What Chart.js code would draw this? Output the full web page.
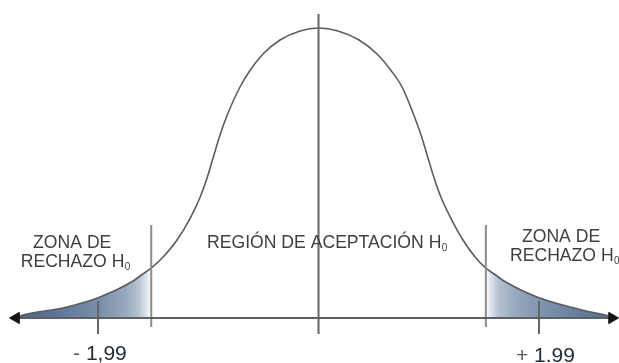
<!DOCTYPE html>
<html>
<head>
<meta charset="utf-8">
<script src="https://cdn.jsdelivr.net/npm/chart.js@4.4.1/dist/chart.umd.min.js"></script>
<style>
  html, body { margin: 0; padding: 0; background: #ffffff; }
  #wrap { width: 619px; height: 363px; }
</style>
</head>
<body>
<div id="wrap"><canvas id="c" width="619" height="363"></canvas></div>
<script>
// Bell curve: standardized abscissa (z) and curve height
const curveZ = [
  -2.712, -2.667, -2.270, -1.972, -1.674, -1.611, -1.503, -1.403, -1.277, -1.160,
  -1.070, -1.006, -0.952, -0.889, -0.817, -0.709, -0.619, -0.501, -0.348, -0.167,
   0.000,  0.176,  0.366,  0.528,  0.654,  0.754,  0.853,  0.925,  0.988,  1.043,
   1.106,  1.196,  1.304,  1.413,  1.503,  1.611,  1.674,  1.972,  2.270,  2.586,
   2.649
];
const curveDensity = [
  0.0021, 0.0041, 0.0152, 0.0290, 0.0510, 0.0579, 0.0697, 0.0841, 0.1076, 0.1372,
  0.1662, 0.1931, 0.2207, 0.2524, 0.2828, 0.3186, 0.3414, 0.3641, 0.3834, 0.3959,
  0.4000, 0.3959, 0.3834, 0.3641, 0.3414, 0.3186, 0.2828, 0.2524, 0.2207, 0.1931,
  0.1662, 0.1372, 0.1076, 0.0841, 0.0697, 0.0579, 0.0510, 0.0290, 0.0152, 0.0041,
  0.0021
];

// Limits of the acceptance region and the labelled critical values
const regionBounds = [-1.51, 1.51];
const criticalValues = [-1.99, 1.99];
const criticalLabels = [['- ', '1,99'], ['+ ', '1.99']];

// Region captions
const leftCaption = ['ZONA DE', 'RECHAZO H'];
const centerCaption = 'REGIÓN DE ACEPTACIÓN H';
const rightCaption = ['ZONA DE', 'RECHAZO H'];
const subscript = '0';

// Drawing geometry (in axis units)
const X_MIN = -2.875, X_MAX = 2.712;
const Y_MIN = -0.0621, Y_MAX = 0.4386;
const AXIS_FROM = -2.748, AXIS_TO = 2.667;
const ARROW_AT = [-2.730, 2.649];
const CENTER_TOP = 0.4193, TICK_BOTTOM = -0.0221, TICK_TOP = 0.0234;
const BOUND_TOP = 0.1283, BOUND_BOTTOM = -0.0124;

const seg = (x, y0, y1) => [{ x: x, y: y0 }, { x: x, y: y1 }];

// Gradient for the two rejection tails; transparent over the acceptance region
function tailFill(context) {
  const chart = context.chart;
  const area = chart.chartArea;
  if (!area) return 'rgba(0,0,0,0)';
  const xs = chart.scales.x;
  const w = area.right - area.left;
  const f = px => Math.min(1, Math.max(0, (px - area.left) / w));
  const L = xs.getPixelForValue(regionBounds[0]);
  const R = xs.getPixelForValue(regionBounds[1]);
  const g = chart.ctx.createLinearGradient(area.left, 0, area.right, 0);
  g.addColorStop(f(12), '#48618a');
  g.addColorStop(f(60), '#5f7899');
  g.addColorStop(f(100), '#7a8faa');
  g.addColorStop(f(L - 26), '#97a9be');
  g.addColorStop(f(L - 13), '#b4c1d0');
  g.addColorStop(f(L - 5), '#dde3eb');
  g.addColorStop(f(L), '#ffffff');
  g.addColorStop(f(L + 0.5), 'rgba(255,255,255,0)');
  g.addColorStop(f(R - 0.5), 'rgba(255,255,255,0)');
  g.addColorStop(f(R), '#ffffff');
  g.addColorStop(f(R + 5), '#dde3eb');
  g.addColorStop(f(R + 13), '#b4c1d0');
  g.addColorStop(f(R + 29), '#98a9be');
  g.addColorStop(f(545), '#7c91ab');
  g.addColorStop(f(580), '#667e9c');
  g.addColorStop(f(614), '#4f688b');
  return g;
}

// Captions and critical-value labels
const captionPlugin = {
  id: 'captions',
  afterDatasetsDraw(chart) {
    const { ctx } = chart;
    const xs = chart.scales.x, ys = chart.scales.y;
    const X = v => xs.getPixelForValue(v), Y = v => ys.getPixelForValue(v);
    const FONT = '17.6px "Liberation Sans", Arial, sans-serif';
    const SUB = '10px "Liberation Sans", Arial, sans-serif';
    ctx.save();
    ctx.textBaseline = 'alphabetic';
    ctx.textAlign = 'left';
    ctx.fillStyle = '#3f3f3f';

    function withSub(text, x, y) {
      ctx.font = FONT;
      ctx.fillText(text, x, y);
      const w = ctx.measureText(text).width;
      ctx.font = SUB;
      ctx.fillText(subscript, x + w + 0.5, y + 3);
    }
    function plain(text, x, y) {
      ctx.font = FONT;
      ctx.fillText(text, x, y);
    }

    // left tail
    plain(leftCaption[0], X(-2.215) - 40, Y(0.0966));
    withSub(leftCaption[1], X(-2.688), Y(0.0703));
    // acceptance region
    withSub(centerCaption, X(-1.006), Y(0.0966));
    // right tail
    plain(rightCaption[0], X(1.836), Y(0.1048));
    withSub(rightCaption[1], X(1.728), Y(0.0786));

    // critical values under the axis
    ctx.font = '21px "Liberation Sans", Arial, sans-serif';
    criticalLabels.forEach((parts, i) => {
      const x0 = X(criticalValues[i]) + (i === 0 ? -25 : -23);
      const y0 = i === 0 ? 360 : 362;
      ctx.fillStyle = '#5a5a5a';
      ctx.fillText(parts[0], x0, y0);
      const w = ctx.measureText(parts[0]).width;
      ctx.fillStyle = '#1f2a38';
      ctx.fillText(parts[1], x0 + w, y0);
    });
    ctx.restore();
  }
};

const lineStyle = (color, width, order) => ({
  borderColor: color, borderWidth: width, pointRadius: 0, fill: false,
  tension: 0, order: order
});

new Chart(document.getElementById('c'), {
  type: 'line',
  data: {
    datasets: [
      {
        label: 'curve',
        data: curveZ.map((z, i) => ({ x: z, y: curveDensity[i] })),
        borderColor: '#5c5c5c', borderWidth: 1.6, pointRadius: 0,
        cubicInterpolationMode: 'monotone',
        fill: 'origin', backgroundColor: tailFill, order: 6
      },
      Object.assign({ label: 'bound L', data: seg(regionBounds[0], BOUND_TOP, BOUND_BOTTOM) }, lineStyle('#8c8c8c', 2, 4)),
      Object.assign({ label: 'bound R', data: seg(regionBounds[1], BOUND_TOP, BOUND_BOTTOM) }, lineStyle('#8c8c8c', 2, 4)),
      Object.assign({ label: 'center', data: seg(0, CENTER_TOP, TICK_BOTTOM) }, lineStyle('#666666', 2, 3)),
      Object.assign({ label: 'tick L', data: seg(criticalValues[0], TICK_TOP, TICK_BOTTOM) }, lineStyle('#666666', 2, 3)),
      Object.assign({ label: 'tick R', data: seg(criticalValues[1], TICK_TOP, TICK_BOTTOM) }, lineStyle('#666666', 2, 3)),
      Object.assign({ label: 'axis', data: [{ x: AXIS_FROM, y: 0 }, { x: AXIS_TO, y: 0 }] }, lineStyle('#606060', 2, 2)),
      {
        label: 'arrows',
        data: ARROW_AT.map(x => ({ x: x, y: 0 })),
        showLine: false, pointStyle: 'triangle', pointRadius: 6.5,
        pointRotation: [-90, 90],
        pointBackgroundColor: '#151515', pointBorderColor: '#151515', pointBorderWidth: 1,
        order: 1
      }
    ]
  },
  options: {
    responsive: false,
    animation: false,
    events: [],
    layout: { padding: 0, autoPadding: false },
    plugins: { legend: { display: false }, tooltip: { enabled: false } },
    scales: {
      x: { type: 'linear', display: false, min: X_MIN, max: X_MAX },
      y: { type: 'linear', display: false, min: Y_MIN, max: Y_MAX }
    }
  },
  plugins: [captionPlugin]
});
</script>
</body>
</html>
